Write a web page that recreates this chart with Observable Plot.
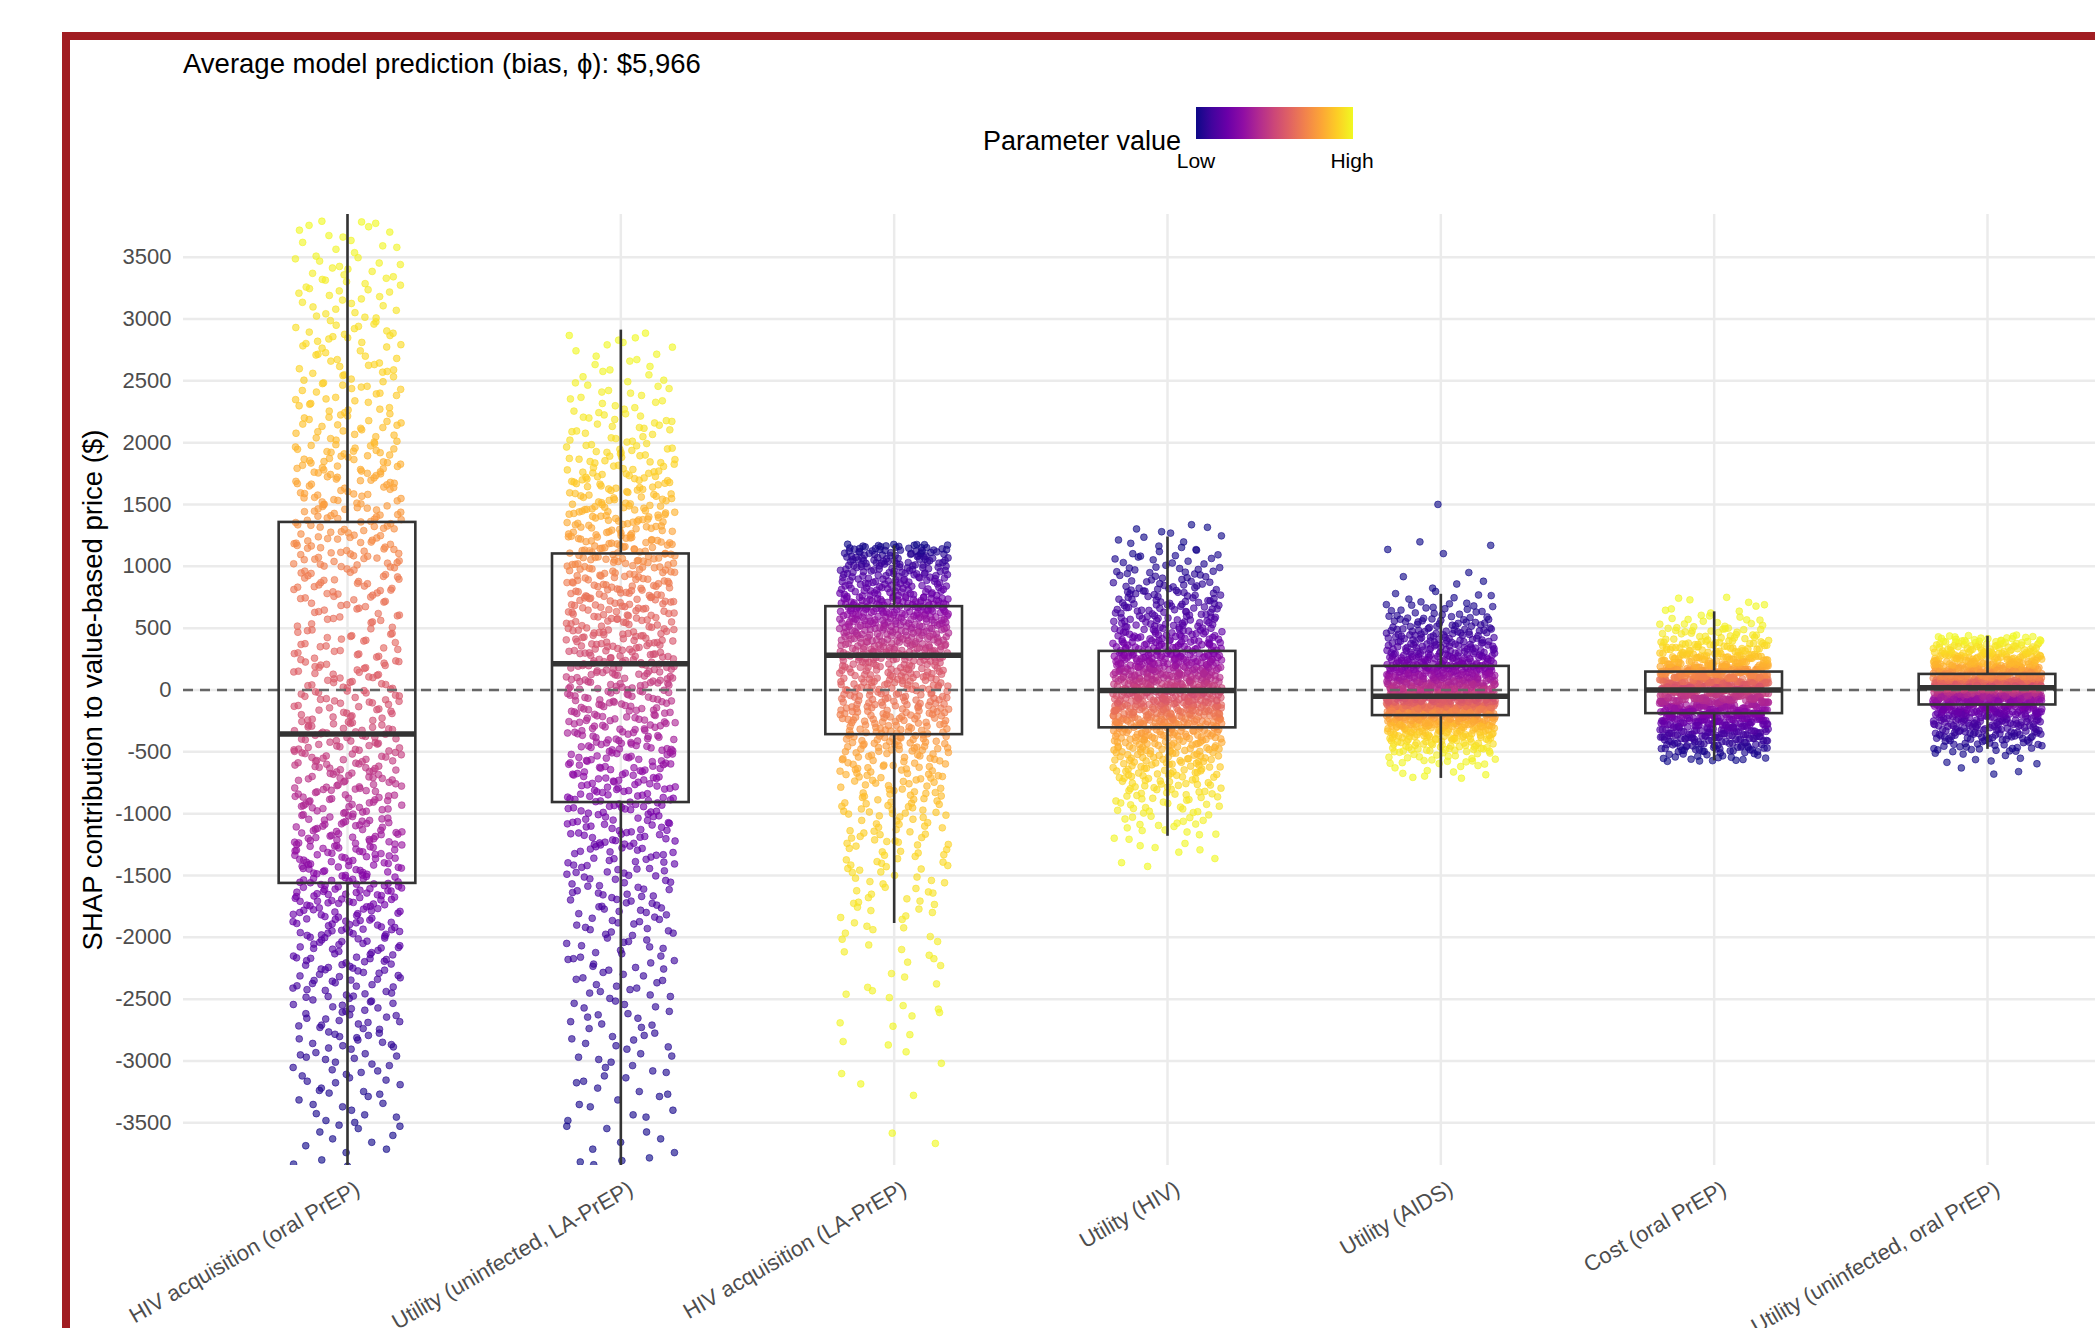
<!DOCTYPE html>
<html>
<head>
<meta charset="utf-8">
<script src="https://cdn.jsdelivr.net/npm/d3@7"></script>
<script src="https://cdn.jsdelivr.net/npm/@observablehq/plot@0.6"></script>
<style>
  html, body { margin: 0; padding: 0; background: #fff; overflow: hidden; width: 2095px; height: 1328px; }
  #page { position: relative; width: 2095px; height: 1328px; overflow: hidden; font-family: "Liberation Sans", Arial, Helvetica, sans-serif; }
  #frame { position: absolute; left: 62px; top: 32px; width: 3000px; height: 3000px; border: 8px solid #a11d22; box-sizing: border-box; pointer-events: none; z-index: 3; }
  #title { position: absolute; left: 183px; top: 50px; font-size: 27.5px; line-height: 1; color: #000; white-space: nowrap; }
  #legendTitle { position: absolute; left: 880px; width: 301px; top: 128px; font-size: 27px; line-height: 1; text-align: right; color: #000; white-space: nowrap; }
  #legendBar { position: absolute; left: 1196px; top: 107px; width: 157px; height: 32px; }
  .legendLabel { position: absolute; width: 100px; top: 150px; font-size: 21px; line-height: 1; text-align: center; color: #000; }
  #chart { position: absolute; left: 0; top: 200px; width: 2151px; }
  #chart svg { max-width: none !important; }
</style>
</head>
<body>
<div id="page">
  <div id="title">Average model prediction (bias, ϕ): $5,966</div>
  <div id="legendTitle">Parameter value</div>
  <div id="legendBar"></div>
  <div class="legendLabel" style="left:1146px">Low</div>
  <div class="legendLabel" style="left:1302px">High</div>
  <div id="chart"></div>
  <div id="frame"></div>
</div>
<script>
// ---- Categories (x axis, in display order) ----
const features = [
  "HIV acquisition (oral PrEP)",
  "Utility (uninfected, LA-PrEP)",
  "HIV acquisition (LA-PrEP)",
  "Utility (HIV)",
  "Utility (AIDS)",
  "Cost (oral PrEP)",
  "Utility (uninfected, oral PrEP)"
];

// ---- Y tick labels ----
const yTickValues = [-3500, -3000, -2500, -2000, -1500, -1000, -500, 0, 500, 1000, 1500, 2000, 2500, 3000, 3500];

// ---- Boxplot statistics (SHAP, $) ----
const boxQ1        = [-1564, -910, -361, -306, -207, -191, -121];
const boxMedian    = [-355, 213, 281, -5, -51, 0, 19];
const boxQ3        = [1355, 1100, 674, 312, 191, 145, 126];
const whiskerLow   = [-3950, -3950, -1888, -1183, -715, -573, -480];
const whiskerHigh  = [3900, 2910, 1165, 1237, 774, 632, 435];

// ---- Distribution of the jittered SHAP points: counts per bin ----
const binStart = [-4000, -4000, -3750, -1500, -800, -600, -700];
const binWidth = [250, 250, 250, 100, 100, 100, 100];
const valueMin = [-3900, -3850, -3750, -1440, -720, -580, -690];
const valueMax = [3800, 2920, 1180, 1340, 1580, 760, 445];

const countsHivAcqOral   = [4, 10, 13, 17, 22, 27, 32, 38, 48, 58, 55, 52, 48, 48, 46, 38, 36, 28, 26, 36, 42, 40, 38, 40, 28, 25, 22, 22, 20, 19, 12, 4];
const countsUtilUninfLA  = [4, 7, 9, 11, 13, 15, 18, 20, 24, 28, 34, 42, 50, 52, 55, 58, 65, 66, 62, 66, 70, 62, 50, 38, 26, 18, 12, 7];
const countsHivAcqLA     = [2, 1, 3, 4, 6, 7, 9, 13, 18, 24, 30, 40, 50, 75, 88, 98, 140, 155, 110, 90];
const countsUtilHiv      = [1, 3, 5, 8, 11, 15, 19, 24, 30, 36, 44, 54, 80, 82, 85, 85, 82, 78, 50, 42, 36, 32, 26, 22, 18, 12, 8, 5, 3];
const countsUtilAids     = [2, 8, 22, 45, 70, 105, 165, 140, 110, 100, 75, 55, 45, 30, 18, 8, 3, 2, 0, 4, 0, 0, 0, 1];
const countsCostOral     = [20, 55, 80, 95, 125, 130, 170, 140, 75, 50, 28, 16, 7, 4];
const countsUtilUninfOral= [3, 8, 30, 55, 70, 110, 190, 215, 130, 90, 65, 18];
const binCounts = [countsHivAcqOral, countsUtilUninfLA, countsHivAcqLA, countsUtilHiv, countsUtilAids, countsCostOral, countsUtilUninfOral];

// Direction of the colour gradient: true = high parameter value gives higher SHAP
const highRaisesShap = [true, true, false, false, false, true, true];

// ---- Fixed (non-random) jitter layout: van der Corput / Halton sequences ----
function halton(i, base) {
  let f = 1, r = 0;
  while (i > 0) { f /= base; r += f * (i % base); i = Math.floor(i / base); }
  return r;
}

// ---- Build point table (one dot per counted point, placed within its bin) ----
const points = [];
features.forEach((name, f) => {
  const vals = [];
  const total = d3.sum(binCounts[f]);
  let j = 0;
  binCounts[f].forEach((n, b) => {
    const a = Math.max(binStart[f] + b * binWidth[f], valueMin[f]);
    const c = Math.min(binStart[f] + (b + 1) * binWidth[f], valueMax[f]);
    for (let k = 0; k < n; k++, j++) {
      const fy = halton(k + 1 + b * 7, 3);
      const fx = halton(((j * 7919 + f * 131) % total) + 1, 2);
      vals.push({v: a + fy * (c - a), jx: fx});
    }
  });
  const sorted = vals.map(d => d.v).slice().sort((p, q) => p - q);
  vals.forEach(d => {
    const rank = d3.bisectLeft(sorted, d.v) / (total - 1);
    points.push({
      feature: name,
      x: f + (d.jx - 0.5) * 0.4,
      y: d.v,
      level: highRaisesShap[f] ? rank : 1 - rank
    });
  });
});

const boxes = features.map((name, i) => ({
  i, name, q1: boxQ1[i], med: boxMedian[i], q3: boxQ3[i], lo: whiskerLow[i], hi: whiskerHigh[i]
}));

// ---- Legend gradient ----
const stops = d3.range(0, 1.0001, 0.1).map(t => `${d3.interpolatePlasma(t)} ${Math.round(t * 100)}%`).join(",");
document.getElementById("legendBar").style.background = `linear-gradient(to right, ${stops})`;

// ---- Chart ----
const chart = Plot.plot({
  width: 2151,
  height: 1265,
  marginLeft: 183,
  marginRight: 0,
  marginTop: 14,
  marginBottom: 300,
  style: {fontFamily: "'Liberation Sans', Arial, Helvetica, sans-serif", background: "transparent", overflow: "visible", maxWidth: "none"},
  x: {domain: [-0.6, 6.6], axis: null},
  y: {domain: [-3845, 3845], axis: null},
  color: {type: "sequential", scheme: "plasma", domain: [0, 1]},
  marks: [
    Plot.gridY(yTickValues, {stroke: "#ebebeb", strokeOpacity: 1, strokeWidth: 2.5}),
    Plot.gridX(d3.range(features.length), {stroke: "#ebebeb", strokeOpacity: 1, strokeWidth: 2.5}),
    Plot.axisY(yTickValues, {tickSize: 0, tickPadding: 12, fontSize: 22, fill: "#4d4d4d", tickFormat: d => String(d), label: null}),
    Plot.dot(points, {x: "x", y: "y", r: 3.4, fill: "level", stroke: "level", fillOpacity: 0.62, strokeOpacity: 0.65, strokeWidth: 0.9, clip: true}),
    Plot.ruleY([0], {stroke: "#666", strokeWidth: 2.5, strokeDasharray: "10,7"}),
    Plot.ruleX(boxes, {x: "i", y1: "q3", y2: "hi", stroke: "#333", strokeWidth: 2.6, clip: true}),
    Plot.ruleX(boxes, {x: "i", y1: "lo", y2: "q1", stroke: "#333", strokeWidth: 2.6, clip: true}),
    Plot.rect(boxes, {x1: d => d.i - 0.25, x2: d => d.i + 0.25, y1: "q1", y2: "q3", fill: "none", stroke: "#333", strokeWidth: 2.6}),
    Plot.ruleY(boxes, {y: "med", x1: d => d.i - 0.25, x2: d => d.i + 0.25, stroke: "#333", strokeWidth: 5.5}),
    Plot.text(features, {x: (d, i) => i, text: d => d, frameAnchor: "bottom", dx: 6, dy: 14, rotate: -30, textAnchor: "end", lineAnchor: "top", fontSize: 22, fill: "#4d4d4d"}),
    Plot.text(["SHAP contribution to value-based price ($)"], {text: d => d, frameAnchor: "left", dx: -90, rotate: -90, textAnchor: "middle", lineAnchor: "middle", fontSize: 27.5, fill: "#000"})
  ]
});
document.getElementById("chart").appendChild(chart);
</script>
</body>
</html>
